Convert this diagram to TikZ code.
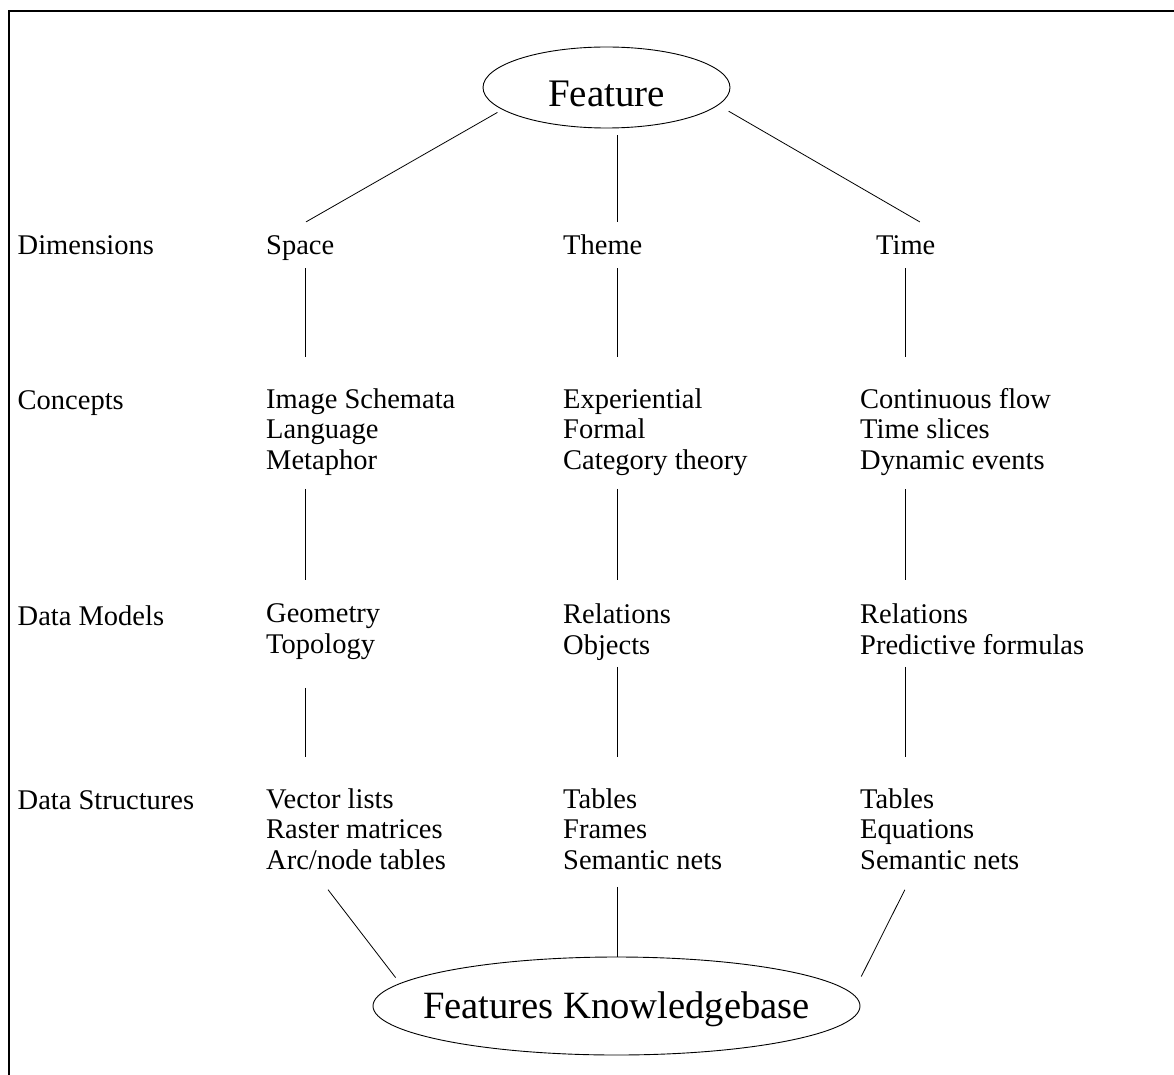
\documentclass[tikz,border=0pt]{standalone}
\usepackage{fontspec}
\setmainfont{Liberation Serif}
\usetikzlibrary{shapes.geometric}
\newcommand\rowfont{\fontsize{28.5}{30.5}\selectfont}
\begin{document}
\begin{tikzpicture}[x=1pt,y=-1pt]

      \useasboundingbox (0,0) rectangle (1174,1075);
      \draw[line width=1.8pt] (9,1075) -- (9,11) -- (1174,11);

      \coordinate (c1) at (305,0);
      \coordinate (c2) at (617,0);
      \coordinate (c3) at (905,0);

      \begin{scope}[every node/.style={ellipse, draw, line width=0.9pt, inner sep=0pt}]
        \node (feature) at (606.5,87.5) [minimum width=247pt, minimum height=81pt,
          text height=39pt, text depth=0pt, font=\fontsize{39}{42}\selectfont] {Feature};
        \node (kb) at (616.5,1006) [minimum width=487pt, minimum height=98pt, inner xsep=-30pt,
          text height=27pt, text depth=3pt, font=\fontsize{38.6}{42}\selectfont] {Features Knowledgebase};
      \end{scope}

      \begin{scope}[every node/.style={anchor=north west, inner sep=0pt, align=left, font=\rowfont,
          execute at begin node=\strut, execute at end node=\strut}]
        \node (dimlabel) at (17.5,232.65) {Dimensions};
        \node (conlabel) at (17.5,388.15) {Concepts};
        \node (modlabel) at (17.5,603.65) {Data Models};
        \node (strlabel) at (17.5,788.15) {Data Structures};

        \node (dimspace) at (266,232.65) {Space};
        \node (conspace) at (266,388.15) {Image Schemata\\Language\\Metaphor};
        \node (modspace) at (266,603.65) {Geometry\\Topology};
        \node (strspace) at (266,788.15) {Vector lists\\Raster matrices\\Arc/node tables};

        \node (dimtheme) at (563,232.65) {Theme};
        \node (contheme) at (563,388.15) {Experiential\\Formal\\Category theory};
        \node (modtheme) at (563,603.65) {Relations\\Objects};
        \node (strtheme) at (563,788.15) {Tables\\Frames\\Semantic nets};

        \node (dimtime) at (876,232.65) {Time};
        \node (contime) at (860,388.15) {Continuous flow\\Time slices\\Dynamic events};
        \node (modtime) at (860,603.65) {Relations\\Predictive formulas};
        \node (strtime) at (860,788.15) {Tables\\Equations\\Semantic nets};
      \end{scope}

      \begin{scope}[every edge/.style={draw, line width=0.8pt},
          cutends/.style 2 args={shorten <=#1pt, shorten >=#2pt}]
        % feature to dimensions
        \path (feature.192)        edge[cutends={5.6}{21.7}]  ([xshift=-13pt]dimspace.north);
        \path (feature.south -| c2) edge[cutends={7}{10.65}]  (dimtheme.north -| c2);
        \path (feature.-9)         edge[cutends={12}{21.4}]   ([xshift=32.6pt]dimtime.north);
        % dimensions to concepts
        \path (dimspace.south -| c1) edge[cutends={4.85}{31.15}] (conspace.north -| c1);
        \path (dimtheme.south -| c2) edge[cutends={4.85}{31.15}] (contheme.north -| c2);
        \path (dimtime.south -| c3)  edge[cutends={4.85}{31.15}] (contime.north -| c3);
        % concepts to data models
        \path (conspace.south -| c1) edge[cutends={10.35}{23.65}] (modspace.north -| c1);
        \path (contheme.south -| c2) edge[cutends={10.35}{23.65}] (modtheme.north -| c2);
        \path (contime.south -| c3)  edge[cutends={10.35}{23.65}] (modtime.north -| c3);
        % data models to data structures
        \path (modspace.south -| c1) edge[cutends={25.35}{31.15}] (strspace.north -| c1);
        \path (modtheme.south -| c2) edge[cutends={3.35}{31.15}]  (strtheme.north -| c2);
        \path (modtime.south -| c3)  edge[cutends={3.35}{31.15}]  (strtime.north -| c3);
        % data structures to knowledgebase
        \path ([xshift=53.4pt]strspace.south west) edge[cutends={14.2}{7.2}] (kb.174);
        \path (strtheme.south -| c2) edge[cutends={8.35}{0}] (kb.north -| c2);
        \path ([xshift=50.5pt]strtime.south west) edge[cutends={12.6}{19.1}] (kb.3);
      \end{scope}

    \end{tikzpicture}
\end{document}
